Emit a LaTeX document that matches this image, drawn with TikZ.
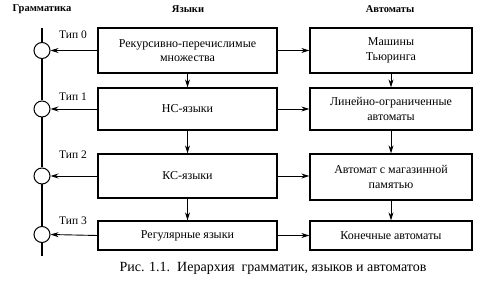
\documentclass[tikz,border=0pt]{standalone}
\usepackage{fontspec}
\setmainfont{Liberation Serif}
\usetikzlibrary{arrows.meta}
\begin{document}
\begin{tikzpicture}[x=1pt,y=1pt,
  box/.style={draw,line width=1.3pt,align=center,inner sep=0pt,font=\fontsize{12}{14.5}\selectfont},
  lbox/.style={box,minimum width=179pt},
  rbox/.style={box,minimum width=162pt},
  circ/.style={draw,line width=1pt,circle,minimum size=16pt,inner sep=0pt},
  arr/.style={line width=0.9pt,-{Stealth[length=8pt,width=5pt]}},
  hdr/.style={font=\fontsize{10.5}{12}\selectfont\bfseries},
  tip/.style={font=\fontsize{11.5}{13}\selectfont}]
\useasboundingbox (0,0) rectangle (484,286);
% headers
\node[hdr] (h1) at (42,277) {Грамматика};
\node[hdr] (h2) at (188,277) {Языки};
\node[hdr] (h3) at (390,277) {Автоматы};
% left column boxes
\node[lbox,minimum height=45pt] (l0) at (187.5,235.5) {Рекурсивно-перечислимые\\множества};
\node[lbox,minimum height=42pt] (l1) at (187.5,177) {НС-языки};
\node[lbox,minimum height=44pt] (l2) at (187.5,110) {КС-языки};
\node[lbox,minimum height=29pt] (l3) at (187.5,50.5) {Регулярные языки};
% right column boxes
\node[rbox,minimum height=45pt] (r0) at (391,235.5) {Машины\\Тьюринга};
\node[rbox,minimum height=42pt] (r1) at (391,177) {Линейно-ограниченные\\автоматы};
\node[rbox,minimum height=46pt] (r2) at (391,109) {Автомат с магазинной\\памятью};
\node[rbox,minimum height=29pt] (r3) at (391,50.5) {Конечные автоматы};
% grammar axis
\coordinate (top) at (42,258);
\coordinate (bot) at (42,30);
\node[circ] (c0) at (42,235.5) {};
\node[circ] (c1) at (42,177) {};
\node[circ] (c2) at (42,110) {};
\node[circ] (c3) at (42,51.5) {};
\draw[line width=1.3pt] (top) -- (c0.north) (c0.south) -- (c1.north) (c1.south) -- (c2.north) (c2.south) -- (c3.north) (c3.south) -- (bot);
% type labels
\node[tip] (t0) at (73,251) {Тип 0};
\node[tip] (t1) at (73,189) {Тип 1};
\node[tip] (t2) at (73,131) {Тип 2};
\node[tip] (t3) at (73,65) {Тип 3};
% arrows to circles
\draw[arr] (l0.west) -- (c0.east);
\draw[arr] (l1.west) -- (c1.east);
\draw[arr] (l2.west) -- (c2.east);
\draw[arr] (l3.west) -- (c3.east);
% horizontal arrows
\draw[arr] (l0.east) -- (r0.west);
\draw[arr] (l1.east) -- (r1.west);
\draw[arr] (l2.east) -- (r2.west |- l2.east);
\draw[arr] (l3.east) -- (r3.west);
% vertical arrows
\draw[arr] (l0.south) -- (l1.north);
\draw[arr] (l1.south) -- (l2.north);
\draw[arr] (l2.south) -- (l3.north);
\draw[arr] (r0.south) -- (r1.north);
\draw[arr] (r1.south) -- (r2.north);
\draw[arr] (r2.south) -- (r3.north);
% caption
\node[font=\fontsize{14}{16}\selectfont] (cap) at (273,18) {Рис. 1.1.\ \ Иерархия\ \ грамматик, языков и автоматов};
\end{tikzpicture}
\end{document}
